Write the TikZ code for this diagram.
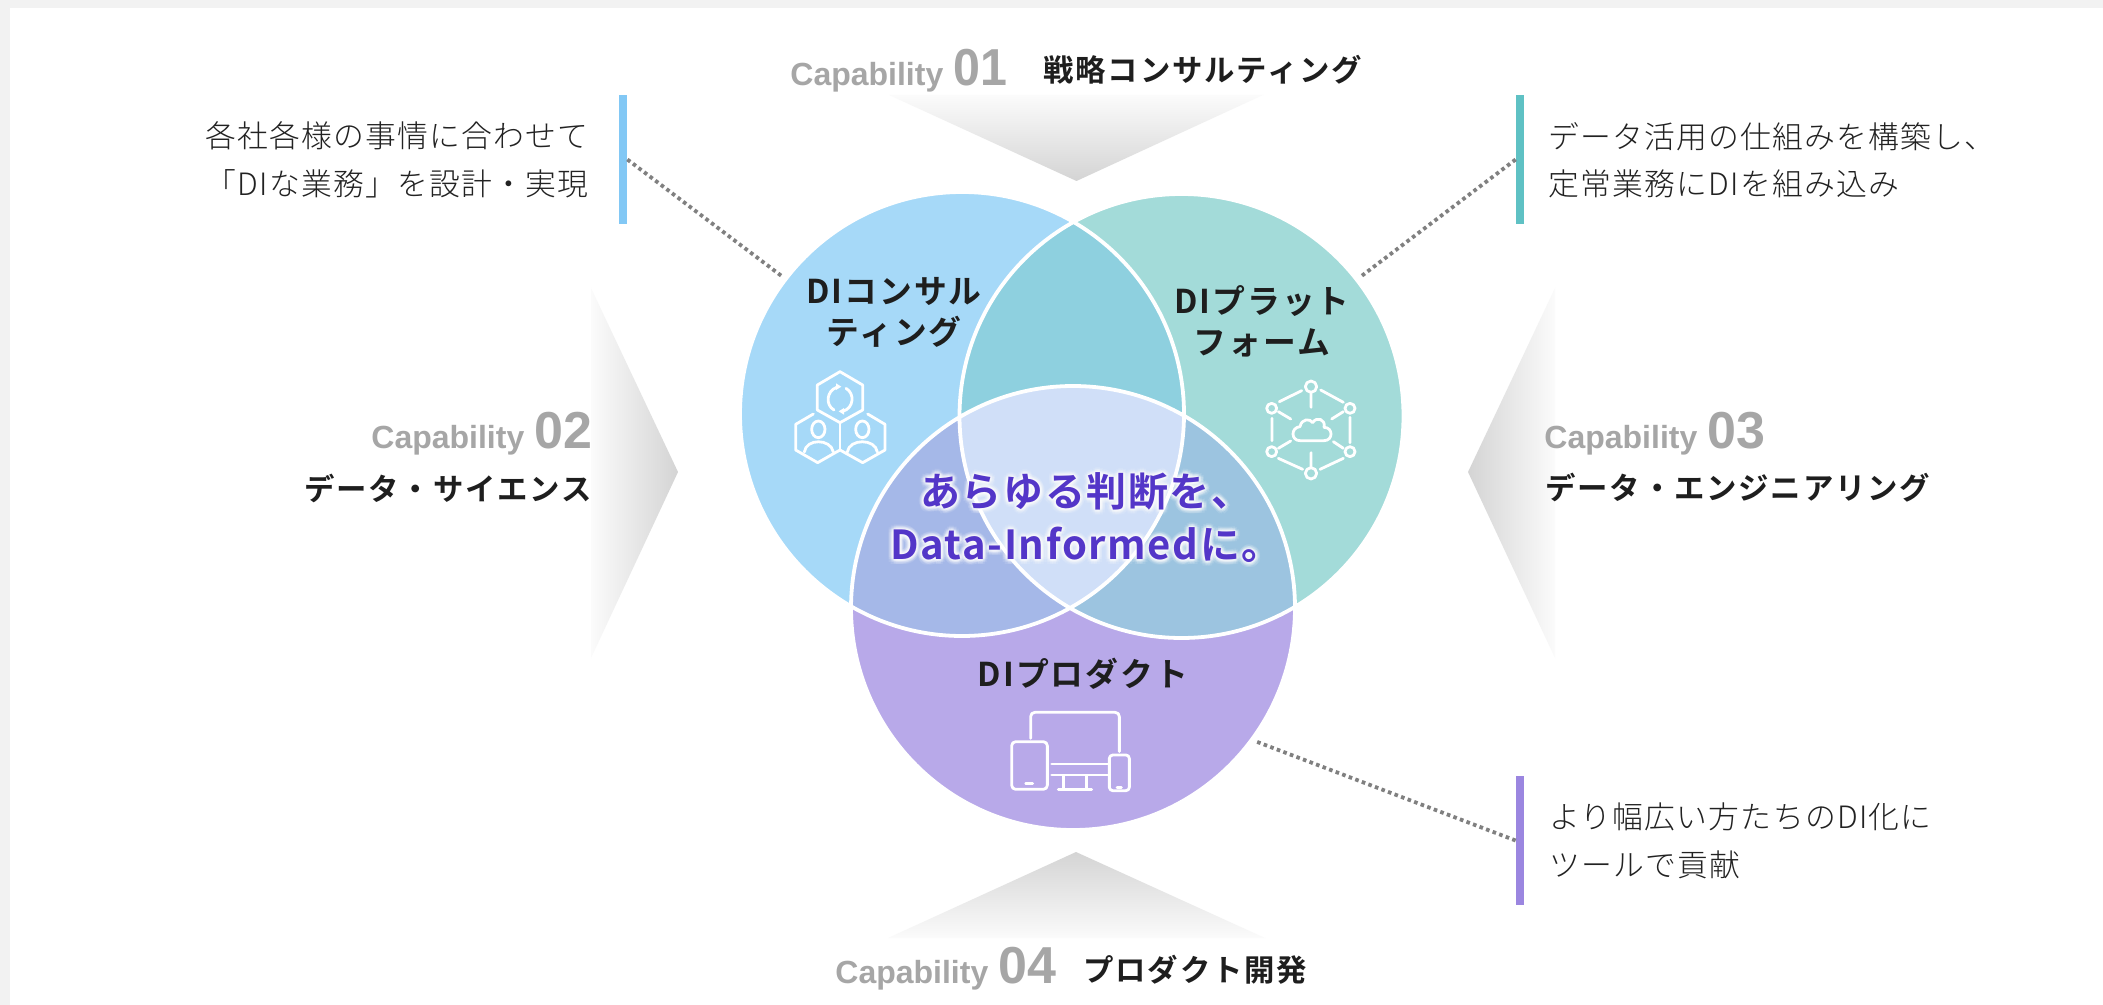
\documentclass[tikz,border=0pt]{standalone}
\usetikzlibrary{calc}
\usepackage{graphicx}
\usepackage{fontspec}
\setmainfont{Liberation Sans}
\newfontfamily\jpb[LetterSpace=6,UprightFont={* Bold}]{Noto Sans CJK JP}
\newfontfamily\jpbc[LetterSpace=4,UprightFont={* Bold}]{Noto Sans CJK JP}
\newfontfamily\jpl[LetterSpace=4,UprightFont={* Light}]{Noto Sans CJK JP}
\newfontfamily\capf[UprightFont={* Bold}]{Liberation Sans}
\definecolor{bgG}{HTML}{F2F2F2}
\definecolor{cA}{HTML}{A6D9F8}
\definecolor{cB}{HTML}{A3DBD9}
\definecolor{cC}{HTML}{B8A9E9}
\definecolor{cAB}{HTML}{8ED0DF}
\definecolor{cAC}{HTML}{A5B8E8}
\definecolor{cBC}{HTML}{9CC4E0}
\definecolor{cABC}{HTML}{D0DFF8}
\definecolor{barA}{HTML}{82C8F5}
\definecolor{barB}{HTML}{5FC1C4}
\definecolor{barC}{HTML}{9B86E0}
\definecolor{capG}{HTML}{A6A6A6}
\definecolor{inkD}{HTML}{1E1E1E}
\definecolor{inkL}{HTML}{222222}
\definecolor{vio}{HTML}{5336C8}
\definecolor{chev}{HTML}{D4D4D4}
\definecolor{chevb}{HTML}{FBFBFB}
\definecolor{dotG}{HTML}{808080}
\tikzset{
 vennc/.style={circle,inner sep=0pt,minimum size=444*0.5pt},
 sidebar/.style={rectangle,inner sep=0pt,minimum width=4pt,minimum height=64.5pt},
 leader/.style={dotG,line width=1.9pt,dash pattern=on 1.8pt off 1.7pt},
 capnum/.style={anchor=base west,inner sep=0pt,text=capG,font=\capf\fontsize{16}{16}\selectfont},
 captitle/.style={inner sep=0pt,text=inkD,font=\jpb\fontsize{15.2}{16}\selectfont},
 desc/.style={inner sep=0pt,text=inkL,font=\jpl\fontsize{15.4}{23.7}\selectfont},
 venntitle/.style={inner sep=0pt,text=inkD,align=center,font=\jpb\fontsize{16.4}{20.5}\selectfont},
 centre/.style={inner sep=0pt,align=center,font=\jpbc\fontsize{20}{26.5}\selectfont},
 iconline/.style={white,line width=1.4pt,line cap=round,line join=round},
 zoomed/.style={x=0.16667pt,y=-0.16667pt},
}
\newcommand{\bigd}[1]{{\fontsize{26}{26}\selectfont #1}}
\newcommand{\bigdn}[1]{\scalebox{0.93}[1]{\fontsize{26}{26}\selectfont #1}}
\begin{document}
\begin{tikzpicture}[x=0.5pt,y=-0.5pt]
\useasboundingbox (0,0) rectangle (2103,1005);
\fill[bgG] (0,0) rectangle (2103,1005);
\fill[white] (10,8) rectangle (2103,1005);
% chevrons
\shade[top color=chevb,bottom color=chev] (889,95) -- (1263,95) -- (1076.5,181) -- cycle;
\shade[top color=chev,bottom color=chevb] (888,938) -- (1265,938) -- (1076,852) -- cycle;
\shade[left color=chevb,right color=chev] (591,288) -- (678,472) -- (591,658) -- cycle;
\shade[left color=chev,right color=chevb] (1555,288) -- (1468,472) -- (1555,658) -- cycle;
% venn
\node[vennc,fill=cA] (vA) at (962,414) {};
\node[vennc,fill=cB] (vB) at (1181.5,416) {};
\node[vennc,fill=cC] (vC) at (1073,608) {};
\begin{scope}
 \clip (962,414) circle (222);
 \fill[cAB] (1181.5,416) circle (222);
 \fill[cAC] (1073,608) circle (222);
\end{scope}
\begin{scope}
 \clip (1181.5,416) circle (222);
 \fill[cBC] (1073,608) circle (222);
\end{scope}
\begin{scope}
 \clip (962,414) circle (222);
 \clip (1181.5,416) circle (222);
 \fill[cABC] (1073,608) circle (222);
\end{scope}
\draw[white,line width=1.9pt] (962,414) circle (222) (1181.5,416) circle (222) (1073,608) circle (222);
% bars and leaders
\node[sidebar,fill=barA] (sbA) at (623,159.5) {};
\node[sidebar,fill=barB,minimum width=4pt] (sbB) at (1520,159.5) {};
\node[sidebar,fill=barC] (sbC) at (1520,840.5) {};
\coordinate (leadA) at (782.5,276.7);
\coordinate (leadB) at (1360.6,276.7);
\coordinate (leadC) at (1254,740.7);
\draw[leader] (sbA.east) -- (leadA);
\draw[leader] (sbB.west) -- (leadB);
\draw[leader] (sbC.west) -- (leadC);
% capability labels
\node[capnum] (cap1) at (790,86) {Capability\hspace{5pt}\bigdn{01}};
\node[captitle,anchor=west] (tt1) at (1043,70) {戦略コンサルティング};
\node[capnum] (cap2) at (371,448) {Capability\hspace{5pt}\bigd{02}};
\node[captitle,anchor=east] (tt2) at (592,488) {データ・サイエンス};
\node[capnum] (cap3) at (1544,448) {Capability\hspace{5pt}\bigd{03}};
\node[captitle,anchor=west] (tt3) at (1545,488) {データ・エンジニアリング};
\node[capnum] (cap4) at (835,983) {Capability\hspace{5pt}\bigd{04}};
\node[captitle,anchor=west] (tt4) at (1083,970) {プロダクト開発};
% descriptions
\node[desc,anchor=east,align=right] (dA) at (589,160) {各社各様の事情に合わせて\\「DIな業務」を設計・実現};
\node[desc,anchor=west,align=left] (dB) at (1548,160) {データ活用の仕組みを構築し、\\定常業務にDIを組み込み};
\node[desc,anchor=west,align=left] (dC) at (1549,841) {より幅広い方たちのDI化に\\ツールで貢献};
% venn titles
\node[venntitle] (tA) at (894,312) {DIコンサル\\ティング};
\node[venntitle] (tB) at (1262,321) {DIプラット\\フォーム};
\node[venntitle] (tC) at (1083,674) {DIプロダクト};
% centre
\foreach \r/\o in {5/0.10,3.5/0.14,2/0.2}{
 \foreach \a in {0,30,...,330}{
  \node[centre,text=white,text opacity=\o] (gl\r\a) at ($(1086,518)+(\a:\r)$) {あらゆる判断を、\\Data-Informedに。};
 }
}
\node[centre,text=vio] (tM) at (1086,518) {あらゆる判断を、\\Data-Informedに。};
% icon A
\begin{scope}[shift={(770,360)},zoomed]
 \draw[iconline] (210,35)--(278,75)--(278,150)--(210,188)--(142,150)--(142,75)--cycle;
 \draw[iconline] (130,162)--(77,193)--(77,270)--(143,308)--(210,270)--(278,308)--(345,270)--(345,193)--(293,162);
 \draw[iconline] (210,188)--(210,270);
 \draw[iconline] (145,208) ellipse (20 and 25) (277,208) ellipse (20 and 25);
 \draw[iconline] (103,276) .. controls (108,235) and (182,235) .. (190,276);
 \draw[iconline] (232,276) .. controls (238,235) and (316,235) .. (322,276);
 \draw[iconline] (200,82) .. controls (170,92) and (165,135) .. (192,150);
 \draw[iconline] (228,85) .. controls (255,100) and (252,145) .. (218,154);
 \fill[white] (214,80)--(198,70)--(198,90)--cycle;
 \fill[white] (206,154)--(222,144)--(222,164)--cycle;
\end{scope}
% icon B
\begin{scope}[shift={(1250,370)},zoomed]
 \draw[iconline] (183,50) circle (17) (300,115) circle (15) (300,245) circle (15) (183,310) circle (17) (65,245) circle (15) (65,115) circle (15);
 \draw[iconline] (212,60)--(280,97) (88,95)--(155,62) (300,142)--(300,218) (66,145)--(66,212) (85,265)--(158,298) (210,298)--(280,265);
 \draw[iconline] (183,68)--(183,112) (280,125)--(245,147) (85,125)--(122,147) (85,235)--(122,213) (280,235)--(250,215) (183,248)--(183,290);
 \draw[iconline] (150,212) .. controls (122,212) and (122,172) .. (150,170) .. controls (155,145) and (180,145) .. (188,158) .. controls (200,138) and (228,148) .. (222,172) .. controls (250,172) and (250,212) .. (222,212) -- cycle;
\end{scope}
% icon C
\begin{scope}[shift={(990,700)},zoomed]
 \draw[iconline] (122,115)--(122,50) .. controls (122,42) and (127,37) .. (135,37)--(375,37) .. controls (383,37) and (388,42) .. (388,50)--(388,155);
 \draw[iconline,rounded corners=2pt] (65,125) rectangle (172,268);
 \draw[iconline] (107,250)--(128,250);
 \draw[iconline,rounded corners=1.7pt] (358,165) rectangle (418,272);
 \draw[iconline] (381,262)--(394,262);
 \draw[iconline] (185,192)--(355,192) (185,225)--(355,225);
 \draw[iconline] (220,228)--(220,268) (290,228)--(290,268) (205,268)--(305,268);
\end{scope}
\end{tikzpicture}
\end{document}
